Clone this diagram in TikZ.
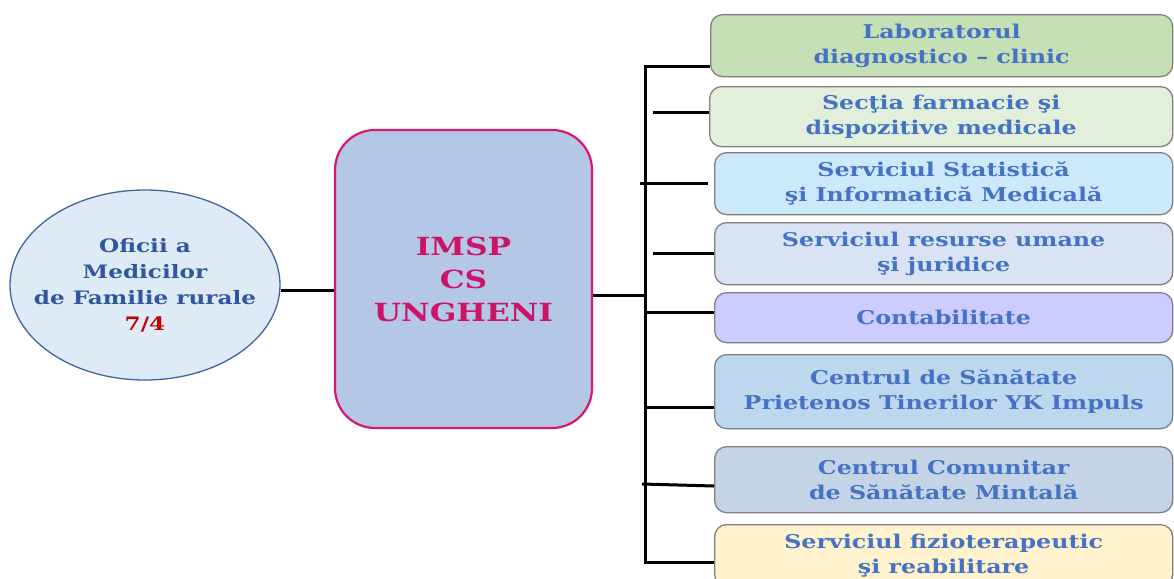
\documentclass[tikz,border=0pt]{standalone}
\usepackage{fontspec}
\setmainfont[FakeStretch=1.25]{DejaVu Serif}
\usetikzlibrary{shapes.geometric}
\definecolor{txtblue}{HTML}{4472C4}
\definecolor{ellblue}{HTML}{2F569E}
\definecolor{ellfill}{HTML}{DEEBF7}
\definecolor{ellline}{HTML}{41659E}
\definecolor{pinkline}{HTML}{D6186E}
\definecolor{pinktxt}{HTML}{CC1466}
\definecolor{mainfill}{HTML}{B4C7E7}
\definecolor{redtxt}{HTML}{C00000}
\definecolor{boxline}{HTML}{808080}
\definecolor{fA}{HTML}{C5E0B4}
\definecolor{fB}{HTML}{E2EFDA}
\definecolor{fC}{HTML}{CCE9FB}
\definecolor{fD}{HTML}{DAE3F3}
\definecolor{fE}{HTML}{CCCCFF}
\definecolor{fF}{HTML}{BDD7EE}
\definecolor{fG}{HTML}{C5D3E6}
\definecolor{fH}{HTML}{FFF2CC}
\begin{document}
\begin{tikzpicture}[x=1pt,y=-1pt,
  dept/.style={draw=boxline, line width=1.3pt, rounded corners=12pt, text=txtblue,
    font=\bfseries\fontsize{19}{25}\selectfont, align=center, anchor=north west,
    inner sep=0pt, minimum width=458pt},
  link/.style={line width=3pt, black}]
\useasboundingbox (0,0) rectangle (1174,578);
% left ellipse
\node[ellipse, draw=ellline, line width=1.3pt, fill=ellfill, minimum width=270pt, minimum height=190pt,
  inner xsep=-30pt, inner ysep=0pt, align=center, text=ellblue, font=\bfseries\fontsize{18.5}{26}\selectfont]
  (ofc) at (145,285) {Oficii a\\Medicilor\\de Familie rurale\\\textcolor{redtxt}{7/4}};
% central box
\node[draw=pinkline, line width=2.2pt, fill=mainfill, rounded corners=40pt, minimum width=257pt,
  minimum height=298pt, inner sep=0pt, align=center, text=pinktxt,
  font=\bfseries\fontsize{25}{33}\selectfont] (imsp) at (463.5,279) {IMSP\\CS\\UNGHENI};
% departments
\node[dept, fill=fA, minimum height=62pt, minimum width=462pt] (b1) at (710,14) {Laboratorul\\diagnostico -- clinic};
\node[dept, fill=fB, minimum height=60pt, minimum width=463pt] (b2) at (709,86) {Secţia farmacie şi\\dispozitive medicale};
\node[dept, fill=fC, minimum height=62pt] (b3) at (714,152) {Serviciul Statistică\\şi Informatică Medicală};
\node[dept, fill=fD, minimum height=62pt] (b4) at (714,222) {Serviciul resurse umane\\şi juridice};
\node[dept, fill=fE, minimum height=50pt] (b5) at (714,292) {Contabilitate};
\node[dept, fill=fF, minimum height=74pt] (b6) at (714,354) {Centrul de Sănătate\\Prietenos Tinerilor YK Impuls};
\node[dept, fill=fG, minimum height=66pt] (b7) at (714,446) {Centrul Comunitar\\de Sănătate Mintală};
\node[dept, fill=fH, minimum height=62pt] (b8) at (714,524) {Serviciul fizioterapeutic\\şi reabilitare};
% trunk coordinates
\coordinate (top) at (645,66);
\coordinate (bot) at (645,562);
\coordinate (mid) at (645,295);
\coordinate (s2) at (653,112);
\coordinate (s3) at (640,183);
\coordinate (s4) at (653,253);
\coordinate (s5) at (645,312);
\coordinate (s6) at (645,407);
\coordinate (s7) at (642,484);
% connectors
\draw[link] (ofc.east |- 0,290) -- (imsp.west |- 0,290);
\draw[link] (imsp.east |- mid) -- (mid);
\draw[link] (b1.west |- top) -- (top) -- (bot) -- (bot -| b8.west);
\draw[link] (s2) -- (s2 -| b2.west);
\draw[link] (s3) -- ([xshift=-6pt]s3 -| b3.west);
\draw[link] (s4) -- (s4 -| b4.west);
\draw[link] (s5) -- (s5 -| b5.west);
\draw[link] (s6) -- (s6 -| b6.west);
\draw[link] (s7) -- ([yshift=-2pt]s7 -| b7.west);
\end{tikzpicture}
\end{document}
